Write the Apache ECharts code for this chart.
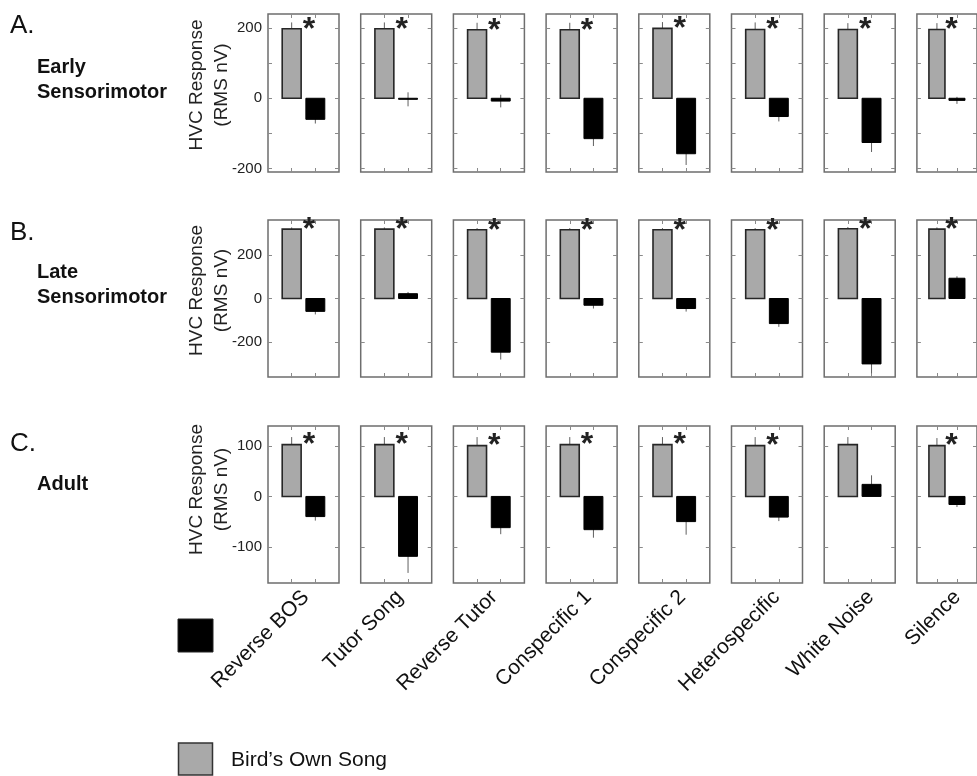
<!DOCTYPE html>
<html><head><meta charset="utf-8">
<script src="https://cdn.jsdelivr.net/npm/echarts@6/dist/echarts.min.js"></script>
<style>html,body{margin:0;padding:0;background:#fff}#c{width:977px;height:776px}</style>
</head><body><div id="c"></div>
<script>
// ---------------- data ----------------
const categories = ['Reverse BOS','Tutor Song','Reverse Tutor','Conspecific 1','Conspecific 2','Heterospecific','White Noise','Silence'];

// A. Early Sensorimotor
const bosA    = [198, 198, 195, 195, 199, 196, 196, 196];
const bosErrA = [18, 18, 20, 20, 18, 20, 18, 18];
const cmpA    = [-60, -3, -8, -115, -158, -52, -126, -6];
const cmpErrA = [12, 20, 18, 21, 32, 14, 27, 10];
const sigA    = [1, 1, 1, 1, 1, 1, 1, 1];
const yTicksA = [-200, -100, 0, 100, 200];
const yLabelsA = [-200, 0, 200];

// B. Late Sensorimotor
const bosB    = [318, 318, 315, 315, 315, 315, 320, 318];
const bosErrB = [8, 8, 8, 8, 8, 8, 8, 8];
const cmpB    = [-59, 22, -246, -31, -46, -115, -300, 93];
const cmpErrB = [14, 8, 34, 15, 14, 15, 43, 9];
const sigB    = [1, 1, 1, 1, 1, 1, 1, 1];
const yTicksB = [-200, 0, 200];
const yLabelsB = [-200, 0, 200];

// C. Adult
const bosC    = [103, 103, 101, 103, 103, 101, 103, 101];
const bosErrC = [15, 15, 17, 15, 15, 17, 15, 15];
const cmpC    = [-40, -119, -62, -66, -50, -41, 24, -16];
const cmpErrC = [8, 33, 13, 16, 26, 8, 18, 5];
const sigC    = [1, 1, 1, 1, 1, 1, 0, 1];
const yTicksC = [-100, 0, 100];
const yLabelsC = [-100, 0, 100];

// ---------------- layout ----------------
const FONT = '"Liberation Sans", Arial, Helvetica, sans-serif';
const rows = [
  {bos:bosA, bosErr:bosErrA, cmp:cmpA, cmpErr:cmpErrA, sig:sigA, min:-210, max:240, ticks:yTicksA, labels:yLabelsA, top:14, height:158, namePad:16},
  {bos:bosB, bosErr:bosErrB, cmp:cmpB, cmpErr:cmpErrB, sig:sigB, min:-360, max:360, ticks:yTicksB, labels:yLabelsB, top:220, height:157, namePad:16},
  {bos:bosC, bosErr:bosErrC, cmp:cmpC, cmpErr:cmpErrC, sig:sigC, min:-172, max:140, ticks:yTicksC, labels:yLabelsC, top:426, height:157, namePad:30}
];
const left0 = 268, step = 92.7, panelW = 71;
const tickStyle = {color:'#8a8a8a', width:1};

const grid = [], xAxis = [], yAxis = [], series = [];

function renderItem(params, api) {
  const x = api.value(0), v = api.value(1), e = api.value(2), kind = api.value(3), sig = api.value(4);
  const hw = 0.4;
  const p0 = api.coord([x - hw, 0]), p1 = api.coord([x + hw, v]);
  const e0 = api.coord([x, v - e]), e1 = api.coord([x, v + e]);
  const children = [
    {type:'line', shape:{x1:e0[0], y1:e0[1], x2:e1[0], y2:e1[1]}, style:{stroke:'#606060', lineWidth:1}},
    {type:'rect', shape:{x:Math.min(p0[0],p1[0]), y:Math.min(p0[1],p1[1]), width:Math.abs(p1[0]-p0[0]), height:Math.max(Math.abs(p1[1]-p0[1]),0.5)},
      style: kind ? {fill:'#000', stroke:'#000', lineWidth:1} : {fill:'#a9a9a9', stroke:'#262626', lineWidth:1.6}}
  ];
  if (!kind && sig) {
    const a = api.coord([1.73, v]);
    children.push({type:'text', x:a[0], y:a[1] + 1,
      style:{text:'*', fontSize:32, fontWeight:'bold', fontFamily:FONT, fill:'#222', align:'center', verticalAlign:'middle'}});
  }
  return {type:'group', children};
}

rows.forEach((r, ri) => {
  for (let i = 0; i < 8; i++) {
    const gi = grid.length;
    grid.push({left: left0 + i*step, top: r.top, width: panelW, height: r.height,
      show:true, borderColor:'#6e6e6e', borderWidth:1.5, backgroundColor:'transparent'});
    const xBase = {type:'value', gridIndex:gi, min:0, max:3, axisLine:{show:false, onZero:false}, splitLine:{show:false},
      axisTick:{show:true, inside:true, length:4, customValues:[1,2], lineStyle:tickStyle}};
    xAxis.push(Object.assign({}, xBase, {position:'bottom',
      axisLabel: ri === 2 ? {show:true, customValues:[1.6 + i*0.06], formatter:() => categories[i], rotate:45, margin:11,
        fontSize:21, color:'#111', fontFamily:FONT} : {show:false}}));
    xAxis.push(Object.assign({}, xBase, {position:'top', axisLabel:{show:false}}));
    const yBase = {type:'value', gridIndex:gi, min:r.min, max:r.max, axisLine:{show:false, onZero:false}, splitLine:{show:false},
      axisTick:{show:true, inside:true, length:4, customValues:r.ticks, lineStyle:tickStyle}};
    yAxis.push(Object.assign({}, yBase, {position:'left',
      axisLabel: i === 0 ? {show:true, customValues:r.labels, fontSize:15, color:'#222', margin:6, fontFamily:FONT} : {show:false},
      name: i === 0 ? 'HVC Response\n(RMS nV)' : '', nameLocation:'middle', nameRotate:90, nameGap:34, nameMoveOverlap:false,
      nameTextStyle:{fontSize:19, lineHeight:25, color:'#222', fontFamily:FONT, padding:[0,0,0,r.namePad]}}));
    yAxis.push(Object.assign({}, yBase, {position:'right', axisLabel:{show:false}}));
    series.push({
      type:'custom', xAxisIndex: 2*gi, yAxisIndex: 2*gi, renderItem, clip:false, silent:true,
      data: [
        [1, r.bos[i], r.bosErr[i], 0, r.sig[i]],
        [2, r.cmp[i], r.cmpErr[i], 1, r.sig[i]]
      ]
    });
  }
});

const txt = (t, x, y, size, bold) => ({type:'text', x, y,
  style:{text:t, fontSize:size, fontWeight: bold ? 'bold' : 'normal', fontFamily:FONT, fill:'#111', verticalAlign:'middle', align:'left'}});

const graphic = [
  txt('A.', 10, 26, 26, false),
  txt('Early', 37, 67, 20, true),
  txt('Sensorimotor', 37, 92, 20, true),
  txt('B.', 10, 233, 26, false),
  txt('Late', 37, 272, 20, true),
  txt('Sensorimotor', 37, 297, 20, true),
  txt('C.', 10, 444, 26, false),
  txt('Adult', 37, 484, 20, true),
  {type:'rect', shape:{x:178, y:619, width:35, height:33}, style:{fill:'#000', stroke:'#222', lineWidth:1}},
  {type:'rect', shape:{x:178.5, y:743, width:34, height:32}, style:{fill:'#a9a9a9', stroke:'#333', lineWidth:1.5}},
  txt('Bird\u2019s Own Song', 231, 760, 21, false)
];

const chart = echarts.init(document.getElementById('c'), null, {renderer:'canvas'});
chart.setOption({backgroundColor:'#fff', animation:false, grid, xAxis, yAxis, series, graphic});
</script>
</body></html>
